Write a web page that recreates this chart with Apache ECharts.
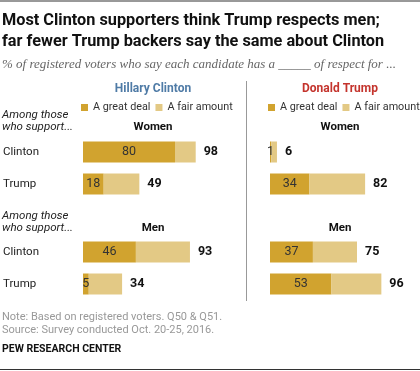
<!DOCTYPE html>
<html><head><meta charset="utf-8">
<script src="https://cdn.jsdelivr.net/npm/echarts@6/dist/echarts.min.js"></script>
<style>html,body{margin:0;padding:0;background:#fff}#c{width:420px;height:371px}</style>
</head><body><div id="c"></div>
<script>
var rows = ['Clinton', 'Trump'];
var seriesNames = ['A great deal', 'A fair amount'];
// Hillary Clinton respects women / men: great deal, total (great deal + fair amount)
var hcWomenGreat = [80, 18];
var hcWomenTotal = [98, 49];
var hcMenGreat = [46, 5];
var hcMenTotal = [93, 34];
// Donald Trump respects women / men
var dtWomenGreat = [1, 34];
var dtWomenTotal = [6, 82];
var dtMenGreat = [37, 53];
var dtMenTotal = [75, 96];

var C_DARK = '#D1A32F', C_LIGHT = '#E3C985';
var F = 'Roboto, "Liberation Sans", sans-serif';

var panels = [
  {great: hcWomenGreat, total: hcWomenTotal, left: 82, top: 136, showRows: true},
  {great: hcMenGreat, total: hcMenTotal, left: 82, top: 236, showRows: true},
  {great: dtWomenGreat, total: dtWomenTotal, left: 270, top: 136, showRows: false},
  {great: dtMenGreat, total: dtMenTotal, left: 270, top: 236, showRows: false}
];

var grid = [], xAxis = [], yAxis = [], series = [];
panels.forEach(function (p, i) {
  grid.push({left: p.left, top: p.top, width: 116, height: 64, containLabel: false});
  xAxis.push({type: 'value', gridIndex: i, min: 0, max: 100, show: false});
  yAxis.push({type: 'category', gridIndex: i, data: rows, inverse: true,
    axisLine: {show: false}, axisTick: {show: false}, splitLine: {show: false},
    axisLabel: {show: p.showRows, align: 'left', margin: 80, color: '#222', fontSize: 11.5, fontFamily: F}});
  series.push({
    name: seriesNames[0], type: 'bar', stack: 's' + i, xAxisIndex: i, yAxisIndex: i,
    barWidth: 21, itemStyle: {color: C_DARK}, silent: true,
    label: {show: true, position: 'inside', color: '#333', fontSize: 12.5, fontFamily: F},
    data: p.great
  });
  series.push({
    name: seriesNames[1], type: 'bar', stack: 's' + i, xAxisIndex: i, yAxisIndex: i,
    barWidth: 21, itemStyle: {color: C_LIGHT}, silent: true,
    label: {show: true, position: 'right', distance: 8, color: '#111', fontWeight: 'bold', fontSize: 12.5, fontFamily: F,
      formatter: function (d) { return p.total[d.dataIndex]; }},
    data: p.total.map(function (t, k) { return t - p.great[k]; })
  });
});

function txt(x, y, s, style) {
  return {type: 'text', x: x, y: y, silent: true,
    style: Object.assign({text: s, fontFamily: F, fontSize: 11.5, fill: '#222', textVerticalAlign: 'middle'}, style || {})};
}

var graphic = [
  {type: 'line', shape: {x1: 0, y1: 1, x2: 420, y2: 1}, style: {stroke: '#333', lineWidth: 1}},
  {type: 'line', shape: {x1: 0, y1: 369.5, x2: 420, y2: 369.5}, style: {stroke: '#333', lineWidth: 1}},
  {type: 'line', shape: {x1: 246.5, y1: 81, x2: 246.5, y2: 301}, style: {stroke: '#999', lineWidth: 1}},
  txt(2, 21, 'Most Clinton supporters think Trump respects men;', {fontSize: 16.3, fontWeight: 'bold', fill: '#111'}),
  txt(2, 42, 'far fewer Trump backers say the same about Clinton', {fontSize: 16.3, fontWeight: 'bold', fill: '#111'}),
  txt(2, 65, '% of registered voters who say each candidate has a _____ of respect for ...', {fontFamily: '"Liberation Serif", serif', fontStyle: 'italic', fontSize: 13, fill: '#666'}),
  txt(153, 89, 'Hillary Clinton', {fontWeight: 'bold', fontSize: 12, fill: '#4F7BA6', textAlign: 'center'}),
  txt(340, 89, 'Donald Trump', {fontWeight: 'bold', fontSize: 12, fill: '#C4342D', textAlign: 'center'}),
  txt(2, 115, 'Among those', {fontStyle: 'italic'}),
  txt(2, 127, 'who support...', {fontStyle: 'italic'}),
  txt(153, 127, 'Women', {fontWeight: 'bold', textAlign: 'center', fill: '#111'}),
  txt(340, 127, 'Women', {fontWeight: 'bold', textAlign: 'center', fill: '#111'}),
  txt(2, 216, 'Among those', {fontStyle: 'italic'}),
  txt(2, 228, 'who support...', {fontStyle: 'italic'}),
  txt(153, 228, 'Men', {fontWeight: 'bold', textAlign: 'center', fill: '#111'}),
  txt(340, 228, 'Men', {fontWeight: 'bold', textAlign: 'center', fill: '#111'}),
  txt(2, 317, 'Note: Based on registered voters. Q50 & Q51.', {fontSize: 11, fill: '#999'}),
  txt(2, 330, 'Source: Survey conducted Oct. 20-25, 2016.', {fontSize: 11, fill: '#999'}),
  txt(2, 349, 'PEW RESEARCH CENTER', {fontSize: 10.5, fontWeight: 'bold', fill: '#111'})
];

var legendBase = {
  data: seriesNames, icon: 'rect', itemWidth: 7, itemHeight: 7, itemGap: 5, itemTextGap: 2,
  selectedMode: false, padding: 0, top: 102, orient: 'horizontal', width: 300,
  textStyle: {fontFamily: F, fontSize: 10.8, color: '#333'}
};

var chart = echarts.init(document.getElementById('c'), null, {renderer: 'canvas'});
chart.setOption({
  animation: false,
  legend: [Object.assign({left: 81}, legendBase), Object.assign({left: 268}, legendBase)],
  grid: grid, xAxis: xAxis, yAxis: yAxis, series: series, graphic: graphic
});
</script></body></html>
